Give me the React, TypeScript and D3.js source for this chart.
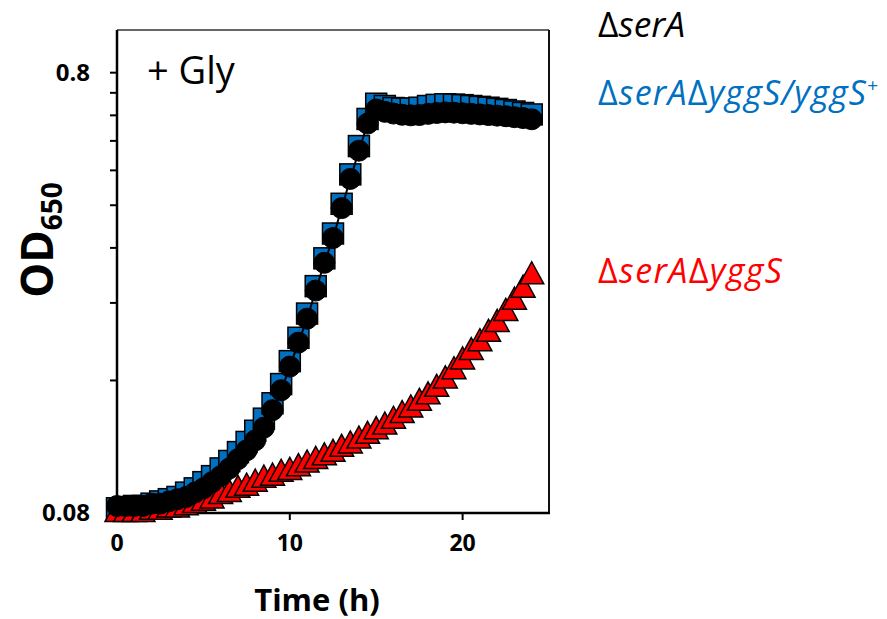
import React from "react";
import * as d3 from "d3";

const time = [0, 0.5, 1, 1.5, 2, 2.5, 3, 3.5, 4, 4.5, 5, 5.5, 6, 6.5, 7, 7.5, 8, 8.5, 9, 9.5, 10, 10.5, 11, 11.5, 12, 12.5, 13, 13.5, 14, 14.5, 15, 15.5, 16, 16.5, 17, 17.5, 18, 18.5, 19, 19.5, 20, 20.5, 21, 21.5, 22, 22.5, 23, 23.5, 24];

const serA = [0.083, 0.083, 0.083, 0.083, 0.084, 0.084, 0.085, 0.086, 0.087, 0.089, 0.091, 0.094, 0.097, 0.101, 0.106, 0.111, 0.117, 0.125, 0.137, 0.152, 0.172, 0.195, 0.221, 0.256, 0.296, 0.337, 0.394, 0.459, 0.532, 0.613, 0.66, 0.652, 0.646, 0.642, 0.64, 0.641, 0.645, 0.648, 0.65, 0.649, 0.647, 0.645, 0.643, 0.641, 0.639, 0.637, 0.634, 0.631, 0.627];

const serAyggSComp = [0.082, 0.082, 0.083, 0.083, 0.084, 0.085, 0.086, 0.087, 0.089, 0.091, 0.094, 0.097, 0.101, 0.105, 0.11, 0.116, 0.123, 0.131, 0.142, 0.157, 0.177, 0.2, 0.227, 0.262, 0.303, 0.345, 0.403, 0.47, 0.545, 0.628, 0.68, 0.672, 0.665, 0.663, 0.663, 0.666, 0.672, 0.676, 0.678, 0.677, 0.675, 0.672, 0.669, 0.666, 0.662, 0.658, 0.653, 0.648, 0.643];

const serAyggS = [0.081, 0.081, 0.081, 0.081, 0.082, 0.082, 0.083, 0.083, 0.084, 0.085, 0.086, 0.087, 0.089, 0.09, 0.092, 0.093, 0.095, 0.097, 0.098, 0.1, 0.101, 0.103, 0.105, 0.107, 0.109, 0.111, 0.114, 0.116, 0.119, 0.122, 0.125, 0.128, 0.132, 0.136, 0.14, 0.145, 0.15, 0.156, 0.163, 0.171, 0.18, 0.189, 0.198, 0.208, 0.219, 0.232, 0.246, 0.262, 0.281];

const xTicks = [0, 10, 20];
const yMinorTicks = [0.16, 0.24, 0.32, 0.4, 0.48, 0.56, 0.64, 0.72];
const yLabelTicks = [0.08, 0.8];

const W = 887;
const H = 619;
const L = 117, R = 549, T = 30, B = 513;

const FONT = "'Open Sans', 'Noto Sans', sans-serif";

export default function App() {
  const x = d3.scaleLinear().domain([0, 25]).range([L, R]);
  const y = d3.scaleLog().domain([0.08, 1.0]).range([B, T]);

  const line = d3
    .line<number>()
    .x((_, i) => x(time[i]))
    .y((d) => y(d));

  const sq = 21;
  const cr = 10.5;
  const tw = 24, th = 22;

  return (
    <div style={{ position: "absolute", left: 0, top: 0 }}>
      <svg width={W} height={H} style={{ display: "block", background: "#fff" }}>
        {/* frame */}
        <line x1={L} x2={R} y1={T} y2={T} stroke="#333" strokeWidth={1.5} />
        <line x1={R} x2={R} y1={T} y2={B} stroke="#111" strokeWidth={2} />
        <line x1={L} x2={L} y1={T} y2={B + 1} stroke="#000" strokeWidth={2.5} />
        <line x1={L - 1} x2={R + 1} y1={B} y2={B} stroke="#000" strokeWidth={2.5} />

        {/* y ticks */}
        {[...yMinorTicks, ...yLabelTicks].map((v) => (
          <line key={"yt" + v} x1={L - 7} x2={L} y1={y(v)} y2={y(v)} stroke="#000" strokeWidth={2} />
        ))}
        {yLabelTicks.map((v) => (
          <text key={"yl" + v} x={90} y={y(v) + 8} textAnchor="end" fontFamily={FONT} fontWeight="bold" fontSize={24} fill="#000">
            {v === 0.8 ? "0.8" : "0.08"}
          </text>
        ))}

        {/* x ticks */}
        {xTicks.map((v) => (
          <g key={"xt" + v}>
            {v !== 0 && <line x1={x(v)} x2={x(v)} y1={B} y2={B + 7} stroke="#000" strokeWidth={2} />}
            <text x={x(v)} y={551} textAnchor="middle" fontFamily={FONT} fontWeight="bold" fontSize={23} fill="#000">
              {String(v)}
            </text>
          </g>
        ))}

        {/* axis titles */}
        <text x={317} y={611} textAnchor="middle" fontFamily={FONT} fontWeight="bold" fontSize={31} fill="#000">
          Time (h)
        </text>
        <text transform="translate(53,240) rotate(-90)" textAnchor="middle" fontFamily={FONT} fontWeight="bold" fontSize={44} fill="#000">
          OD<tspan fontSize={28} dy={9}>650</tspan>
        </text>

        <text x={147} y={84} fontFamily={FONT} fontSize={38} fill="#000">
          + Gly
        </text>

        {/* blue squares */}
        <g>
          {serAyggSComp.map((v, i) => (
            <rect key={"b" + i} x={x(time[i]) - sq / 2} y={y(v) - sq / 2} width={sq} height={sq} fill="#0070C0" stroke="#000" strokeWidth={1.5} />
          ))}
        </g>
        {/* red triangles */}
        <g>
          {serAyggS.map((v, i) => {
            const cx = x(time[i]);
            const cy = y(v);
            const pts = `${cx},${cy - th / 2} ${cx + tw / 2},${cy + th / 2} ${cx - tw / 2},${cy + th / 2}`;
            return <polygon key={"r" + i} points={pts} fill="#FF0000" stroke="#000" strokeWidth={1.5} strokeLinejoin="miter" />;
          })}
        </g>
        {/* black circles */}
        <path d={line(serA) || ""} fill="none" stroke="#000" strokeWidth={2} />
        <g>
          {serA.map((v, i) => (
            <circle key={"k" + i} cx={x(time[i])} cy={y(v)} r={cr} fill="#000" stroke="#000" strokeWidth={1} />
          ))}
        </g>

        {/* legend labels */}
        <text x={598} y={37} fontFamily={FONT} fontSize={34} fill="#000" textLength={87} lengthAdjust="spacingAndGlyphs">
          Δ<tspan fontStyle="italic">serA</tspan>
        </text>
        <text x={598} y={105} fontFamily={FONT} fontSize={34} fill="#0070C0" textLength={280} lengthAdjust="spacing">
          Δ<tspan fontStyle="italic">serA</tspan>Δ<tspan fontStyle="italic">yggS/yggS</tspan>
          <tspan fontSize={19} dy={-13}>+</tspan>
        </text>
        <text x={598} y={283} fontFamily={FONT} fontSize={34} fill="#FF0000" textLength={184} lengthAdjust="spacing">
          Δ<tspan fontStyle="italic">serA</tspan>Δ<tspan fontStyle="italic">yggS</tspan>
        </text>
      </svg>
    </div>
  );
}
